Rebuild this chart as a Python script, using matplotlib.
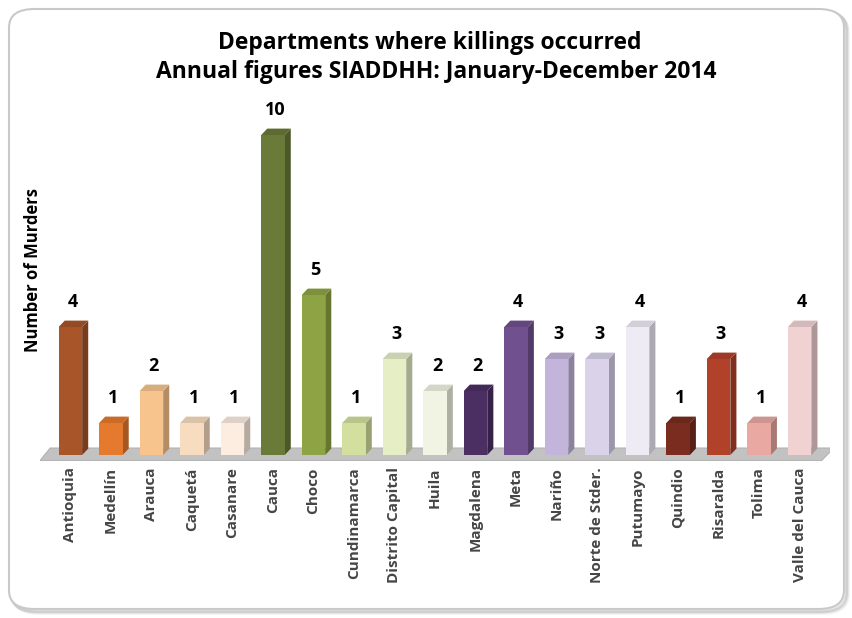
import matplotlib
matplotlib.use("Agg")
import matplotlib.pyplot as plt
from matplotlib.patches import Polygon, FancyBboxPatch
import matplotlib.colors as mcolors

departments = ["Antioquia", "Medellín", "Arauca", "Caquetá", "Casanare", "Cauca", "Choco",
               "Cundinamarca", "Distrito Capital", "Huila", "Magdalena", "Meta", "Nariño",
               "Norte de Stder.", "Putumayo", "Quindio", "Risaralda", "Tolima", "Valle del Cauca"]
murders = [4, 1, 2, 1, 1, 10, 5, 1, 3, 2, 2, 4, 3, 3, 4, 1, 3, 1, 4]
bar_colors = ["#A8552A", "#E57A2E", "#F7C48E", "#F8DCC0", "#FCEDE0", "#6A7A38", "#8EA444",
              "#D2DF9E", "#E6EEC6", "#F1F4E2", "#4B2F63", "#70508F", "#C2B4DA", "#D9D2E9",
              "#EFEBF5", "#7A2D1E", "#B2412A", "#E9A9A2", "#F1D2D3"]

plt.rcParams['font.family'] = ['Open Sans', 'DejaVu Sans']

W, H = 852, 618
fig = plt.figure(figsize=(W / 100, H / 100), dpi=100)
fig.patch.set_facecolor("white")

# rounded frame with soft shadow
for i, a in enumerate([0.05, 0.07, 0.09]):
    off = 3 - i
    sh = FancyBboxPatch((10 / W + off / W, 8 / H - off / H), 835 / W, 600 / H,
                        boxstyle="round,pad=0,rounding_size=0.03", transform=fig.transFigure,
                        facecolor="none", edgecolor=(0, 0, 0, a), linewidth=2.5, zorder=-3)
    fig.patches.append(sh)
frame = FancyBboxPatch((9 / W, 9 / H), 835 / W, 600 / H,
                       boxstyle="round,pad=0,rounding_size=0.03", transform=fig.transFigure,
                       facecolor="white", edgecolor="#C9C9C9", linewidth=1.5, zorder=-2)
fig.patches.append(frame)

# axes: x from px 40 to 830, y baseline at px 455
px_per_unit = 32.0
y_bottom_px = 463
y_top_px = 100
ylo = -(y_bottom_px - 455) / px_per_unit
yhi = (455 - y_top_px) / px_per_unit
ax = fig.add_axes([40 / W, (H - y_bottom_px) / H, 790 / W, (y_bottom_px - y_top_px) / H])
ax.set_zorder(1)
ax.set_xlim(-0.75, len(departments) - 0.25)
ax.set_ylim(ylo, yhi)
ax.set_facecolor("none")
for s in ax.spines.values():
    s.set_visible(False)
ax.tick_params(axis="both", length=0)
ax.set_yticks([])

# floor
floor = Polygon([(-0.75, -0.17), (18.55, -0.17), (18.85, 0.22), (-0.5, 0.22)], closed=True,
                facecolor="#C2C2C2", edgecolor="#ABABAB", linewidth=0.6, zorder=1)
ax.add_patch(floor)

x = list(range(len(departments)))
bw = 0.58
dx, dy = 0.15, 0.2
bars = ax.bar(x, murders, width=bw, color=bar_colors, edgecolor="none", zorder=3)

def shade(c, f):
    r, g, b = mcolors.to_rgb(c)
    return (r * f, g * f, b * f)

for rect, c, v in zip(bars, bar_colors, murders):
    x0 = rect.get_x()
    x1 = x0 + rect.get_width()
    side = Polygon([(x1, 0), (x1 + dx, dy), (x1 + dx, v + dy), (x1, v)], closed=True,
                   facecolor=shade(c, 0.72), edgecolor="none", zorder=2.5)
    top = Polygon([(x0, v), (x0 + dx, v + dy), (x1 + dx, v + dy), (x1, v)], closed=True,
                  facecolor=shade(c, 0.88), edgecolor="none", zorder=3.5)
    ax.add_patch(side)
    ax.add_patch(top)
    ax.text(rect.get_x() + rect.get_width() / 2 + 0.05, v + 0.5, str(v), ha="center", va="bottom",
            fontsize=13, fontweight="bold", color="black", zorder=5)

ax.set_xticks(x)
ax.set_xticklabels(departments, rotation=90, fontsize=11, fontweight="bold", color="#454545")
ax.tick_params(axis="x", pad=3)

fig.text(33 / W, 1 - 270 / H, "Number of Murders", rotation=90, ha="center", va="center",
         fontsize=12, fontweight="bold", color="black")
fig.text(430 / W, 1 - 43 / H, "Departments where killings occurred", ha="center", va="center",
         fontsize=16.5, fontweight="bold", color="black")
fig.text(436 / W, 1 - 72 / H, "Annual figures SIADDHH: January-December 2014", ha="center", va="center",
         fontsize=16.5, fontweight="bold", color="black")

fig.savefig("out.png", dpi=100)
